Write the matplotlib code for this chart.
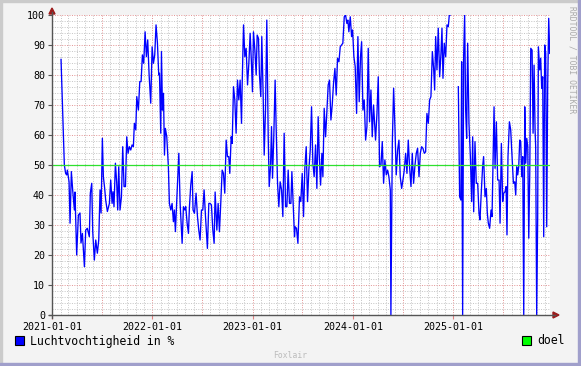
import numpy as np
import pandas as pd
import matplotlib

matplotlib.use("Agg")
import matplotlib.pyplot as plt
from matplotlib.lines import Line2D
from matplotlib.patches import Polygon, Rectangle

W, H = 581, 366
START = pd.Timestamp("2021-01-01")
END = pd.Timestamp("2025-12-19")

# time as years after 2021-01-01, humidity in %
YEARS = [
    0.090, 0.123, 0.136, 0.146, 0.153, 0.170, 0.180, 0.193, 0.206, 0.223,
    0.229, 0.246, 0.263, 0.279, 0.289, 0.303, 0.323, 0.336, 0.352, 0.372,
    0.382, 0.396, 0.406, 0.422, 0.436, 0.452, 0.466, 0.479, 0.489, 0.502,
    0.512, 0.525, 0.535, 0.552, 0.572, 0.585, 0.599, 0.608, 0.618, 0.632,
    0.645, 0.655, 0.665, 0.678, 0.692, 0.705, 0.718, 0.732, 0.745, 0.758,
    0.771, 0.785, 0.798, 0.811, 0.821, 0.835, 0.845, 0.861, 0.875, 0.888,
    0.901, 0.914, 0.928, 0.941, 0.954, 0.968, 0.984, 0.998, 1.011, 1.024,
    1.037, 1.051, 1.064, 1.071, 1.084, 1.091, 1.101, 1.111, 1.121, 1.130,
    1.144, 1.160, 1.170, 1.184, 1.197, 1.210, 1.220, 1.230, 1.244, 1.264,
    1.277, 1.297, 1.310, 1.324, 1.333, 1.347, 1.360, 1.370, 1.383, 1.397,
    1.406, 1.420, 1.436, 1.450, 1.463, 1.476, 1.490, 1.503, 1.516, 1.530,
    1.549, 1.563, 1.576, 1.589, 1.603, 1.616, 1.626, 1.643, 1.656, 1.669,
    1.682, 1.696, 1.709, 1.722, 1.736, 1.749, 1.762, 1.772, 1.786, 1.796,
    1.809, 1.822, 1.835, 1.849, 1.862, 1.875, 1.889, 1.895, 1.909, 1.922,
    1.935, 1.949, 1.962, 1.975, 1.988, 1.998, 2.008, 2.022, 2.035, 2.045,
    2.058, 2.068, 2.081, 2.091, 2.105, 2.115, 2.128, 2.141, 2.155, 2.165,
    2.178, 2.188, 2.198, 2.211, 2.224, 2.234, 2.248, 2.261, 2.274, 2.288,
    2.301, 2.314, 2.328, 2.341, 2.354, 2.367, 2.381, 2.391, 2.404, 2.417,
    2.424, 2.437, 2.451, 2.467, 2.480, 2.494, 2.507, 2.520, 2.534, 2.547,
    2.560, 2.574, 2.587, 2.600, 2.613, 2.627, 2.640, 2.653, 2.663, 2.677,
    2.690, 2.700, 2.713, 2.727, 2.740, 2.753, 2.766, 2.780, 2.793, 2.806,
    2.820, 2.833, 2.846, 2.860, 2.873, 2.886, 2.899, 2.913, 2.926, 2.939,
    2.949, 2.959, 2.973, 2.986, 2.996, 3.009, 3.022, 3.036, 3.049, 3.062,
    3.075, 3.086, 3.099, 3.112, 3.126, 3.139, 3.152, 3.165, 3.179, 3.192,
    3.205, 3.225, 3.239, 3.252, 3.265, 3.279, 3.292, 3.305, 3.318, 3.332,
    3.345, 3.358, 3.372, 3.378, 3.392, 3.405, 3.418, 3.431, 3.445, 3.458,
    3.471, 3.485, 3.498, 3.511, 3.525, 3.538, 3.551, 3.564, 3.578, 3.591,
    3.604, 3.618, 3.631, 3.644, 3.658, 3.671, 3.684, 3.697, 3.711, 3.724,
    3.737, 3.751, 3.764, 3.777, 3.791, 3.804, 3.814, 3.824, 3.837, 3.850,
    3.864, 3.877, 3.887, 3.897, 3.910, 3.924, 3.937, 3.950, 3.960, 3.970,
    4.010,
    4.050, 4.063, 4.076, 4.083, 4.093, 4.103, 4.113, 4.123, 4.133, 4.143,
    4.156, 4.170, 4.183, 4.193, 4.203, 4.216, 4.229, 4.243, 4.256, 4.266,
    4.279, 4.292, 4.302, 4.316, 4.329, 4.339, 4.349, 4.362, 4.376, 4.386,
    4.396, 4.406, 4.416, 4.429, 4.442, 4.456, 4.466, 4.479, 4.492, 4.502,
    4.516, 4.526, 4.535, 4.545, 4.559, 4.572, 4.585, 4.599, 4.612, 4.622,
    4.632, 4.642, 4.652, 4.662, 4.672, 4.682, 4.692, 4.702, 4.712, 4.722,
    4.732, 4.742, 4.752, 4.762, 4.772, 4.785, 4.795, 4.805, 4.815, 4.821,
    4.831, 4.841, 4.848, 4.861, 4.871, 4.881, 4.891, 4.901, 4.911, 4.921,
    4.931, 4.941, 4.951, 4.961,
]
HUMIDITY = [
    85.2, 50.0, 47.2, 46.7, 48.3, 44.4, 30.6, 47.8, 41.7, 35.0,
    41.0, 20.0, 33.3, 34.0, 24.0, 27.2, 16.1, 28.3, 28.9, 26.1,
    40.6, 43.9, 27.8, 18.3, 25.0, 20.6, 25.0, 41.7, 34.0, 58.9,
    46.1, 42.2, 38.3, 34.5, 37.2, 45.0, 37.2, 41.1, 36.1, 50.6,
    44.0, 35.0, 49.4, 35.0, 39.4, 56.1, 42.8, 42.8, 59.4, 53.9,
    56.1, 55.0, 56.7, 56.1, 63.9, 61.7, 72.8, 68.3, 77.8, 77.8,
    86.7, 83.9, 94.4, 86.1, 91.7, 80.0, 70.6, 89.4, 83.9, 86.7,
    96.7, 90.6, 80.0, 80.6, 60.6, 87.8, 68.3, 73.9, 53.3, 62.2,
    59.4, 49.4, 37.2, 35.0, 37.2, 31.1, 35.0, 27.8, 38.3, 53.9,
    37.2, 23.9, 36.1, 35.0, 36.1, 30.6, 27.2, 36.1, 43.3, 47.8,
    35.0, 33.9, 40.6, 32.8, 28.3, 25.0, 35.0, 35.0, 41.7, 32.8,
    22.2, 37.2, 37.2, 36.7, 28.3, 23.9, 41.0, 28.3, 37.2, 27.8,
    37.2, 48.3, 47.2, 40.6, 58.3, 52.8, 52.8, 47.2, 59.4, 57.2,
    76.1, 71.7, 60.6, 78.3, 71.7, 78.3, 63.9, 76.1, 96.7, 86.1,
    88.9, 76.7, 83.9, 93.9, 83.9, 74.4, 94.4, 88.3, 80.0, 93.3,
    92.2, 80.0, 72.8, 92.8, 72.8, 53.3, 68.3, 98.3, 59.4, 42.8,
    49.4, 62.8, 45.6, 60.0, 78.3, 62.8, 43.9, 36.1, 44.4, 41.7,
    32.8, 60.6, 36.1, 36.1, 48.3, 37.2, 37.2, 47.8, 37.2, 26.1,
    29.4, 28.9, 23.9, 39.4, 37.8, 47.2, 32.8, 48.9, 56.1, 37.8,
    48.3, 55.0, 69.4, 50.6, 46.1, 56.7, 42.2, 66.1, 53.9, 43.3,
    53.9, 46.1, 68.9, 59.4, 68.3, 76.7, 78.3, 65.0, 70.0, 77.2,
    82.2, 73.3, 85.6, 84.4, 89.4, 90.0, 90.6, 99.4, 100.0, 97.2,
    98.3, 94.4, 99.4, 92.8, 95.0, 86.1, 82.8, 67.2, 92.8, 71.1,
    86.1, 91.1, 68.3, 71.7, 58.3, 62.8, 88.9, 64.4, 75.0, 59.4,
    70.0, 58.3, 67.2, 79.4, 49.4, 50.0, 57.8, 43.9, 51.7, 46.7,
    48.3, 46.1, 41.7, 0.0, 57.2, 75.6, 62.8, 46.7, 55.0, 58.3,
    46.1, 42.2, 45.0, 48.3, 53.9, 47.2, 58.3, 49.4, 42.8, 53.9,
    43.9, 50.0, 53.9, 55.6, 46.1, 53.9, 56.1, 55.6, 53.9, 54.4,
    67.2, 63.9, 71.7, 72.8, 87.8, 82.2, 75.0, 92.8, 81.7, 95.6,
    79.4, 87.2, 95.6, 78.9, 90.6, 86.1, 96.7, 96.1, 100.0, 100.0,
    np.nan,
    76.1, 39.4, 38.3, 84.4, 0.0, 86.1, 100.0, 68.3, 58.9, 90.6,
    63.9, 52.8, 37.8, 59.4, 34.4, 57.8, 43.9, 43.9, 33.9, 31.7,
    41.1, 49.4, 52.8, 39.4, 42.2, 33.9, 30.6, 28.9, 35.0, 32.8,
    50.6, 69.4, 48.9, 64.4, 45.0, 45.0, 30.6, 57.2, 37.8, 40.6,
    41.1, 42.8, 26.7, 52.8, 64.4, 61.7, 52.8, 43.9, 44.4, 40.0,
    49.4, 46.7, 49.4, 58.3, 57.8, 46.1, 52.8, 0.0, 69.4, 50.6,
    58.9, 56.1, 25.6, 47.2, 88.9, 88.3, 60.6, 83.3, 61.7, 56.1,
    0.0, 32.8, 89.4, 81.7, 85.6, 75.5, 79.4, 26.1, 90.0, 87.2,
    29.4, 77.2, 98.9, 87.2,
]
GOAL = 50
Y_TICKS = list(range(0, 101, 10))
X_TICKS = ["2021-01-01", "2022-01-01", "2023-01-01", "2024-01-01", "2025-01-01"]

MONO = "DejaVu Sans Mono"


def fx(x):
    return x / W


def fy(y):
    return 1 - y / H


dates = START + pd.to_timedelta(np.array(YEARS) * 365.25, unit="D")

fig = plt.figure(figsize=(W / 100, H / 100), dpi=100, facecolor="#F3F3F3")
ax = fig.add_axes([fx(52), fy(315), fx(550) - fx(52), fy(15) - fy(315)])
ax.set_facecolor("white")
for s in ax.spines.values():
    s.set_visible(False)

ax.set_xlim(START, END)
ax.set_ylim(0, 100)

# grid: minor monthly / every 2 %, major half-yearly / every 10 %
dot = (0, (1, 1.5))
minor_col, major_col = "#C4C4C4", "#E29292"
for m in pd.date_range(START, END, freq="MS"):
    major = m.month in (1, 7)
    ax.axvline(m, color=major_col if major else minor_col, lw=0.7, ls=dot, zorder=1)
for v in range(2, 101, 2):
    major = v % 10 == 0
    ax.axhline(v, color=major_col if major else minor_col, lw=0.7, ls=dot, zorder=1)

ax.plot(dates, HUMIDITY, color="#0000FF", lw=0.95, zorder=3)
ax.axhline(GOAL, color="#2EE02E", lw=0.9, zorder=4)

ax.set_yticks(Y_TICKS)
ax.set_yticklabels([str(v) for v in Y_TICKS], family=MONO, fontsize=7.2)
ax.set_xticks([pd.Timestamp(t) for t in X_TICKS])
ax.set_xticklabels(X_TICKS, family=MONO, fontsize=7.2)
ax.tick_params(axis="y", length=3, width=0.8, color="#555555", pad=2)
ax.tick_params(axis="x", length=3, width=0.8, color="#E08080", pad=2)

# axes with arrows
axis_col = "#555555"
fig.add_artist(Line2D([fx(52), fx(52)], [fy(318), fy(12)], color=axis_col, lw=1))
fig.add_artist(Line2D([fx(49), fx(555)], [fy(315), fy(315)], color=axis_col, lw=1))
arrow_col = "#9B1C1C"
fig.add_artist(Polygon([(fx(52), fy(8)), (fx(49), fy(14)), (fx(55), fy(14))],
                       closed=True, color=arrow_col, transform=fig.transFigure))
fig.add_artist(Polygon([(fx(559), fy(315)), (fx(553), fy(312)), (fx(553), fy(318))],
                       closed=True, color=arrow_col, transform=fig.transFigure))

# legend
fig.add_artist(Rectangle((fx(15), fy(345)), fx(9), 9 / H, facecolor="#0000FF",
                         edgecolor="black", lw=0.8, transform=fig.transFigure))
fig.text(fx(30), fy(341), "Luchtvochtigheid in %", family=MONO, fontsize=8.3,
         va="center", ha="left")
fig.add_artist(Rectangle((fx(522), fy(345)), fx(9), 9 / H, facecolor="#00FF00",
                         edgecolor="black", lw=0.8, transform=fig.transFigure))
fig.text(fx(537), fy(341), "doel", family=MONO, fontsize=8.3, va="center", ha="left")

fig.text(fx(290), fy(355), "Foxlair", family=MONO, fontsize=5.8, color="#BBBBBB",
         ha="center", va="center")
fig.text(fx(572), fy(60), "RRDTOOL / TOBI OETIKER", family=MONO, fontsize=5.8,
         color="#AAAAAA", rotation=270, ha="center", va="center")

# frame
fig.add_artist(Rectangle((0, fy(2)), 1, 2 / H, color="#CBCBCB", transform=fig.transFigure))
fig.add_artist(Rectangle((0, 0), 2 / W, 1, color="#CBCBCB", transform=fig.transFigure))
fig.add_artist(Rectangle((0, 0), 1, 3 / H, color="#A09FCB", transform=fig.transFigure))
fig.add_artist(Rectangle((fx(578), 0), 3 / W, 1, color="#A09FCB", transform=fig.transFigure))

fig.savefig("out.png", dpi=100, facecolor=fig.get_facecolor())
